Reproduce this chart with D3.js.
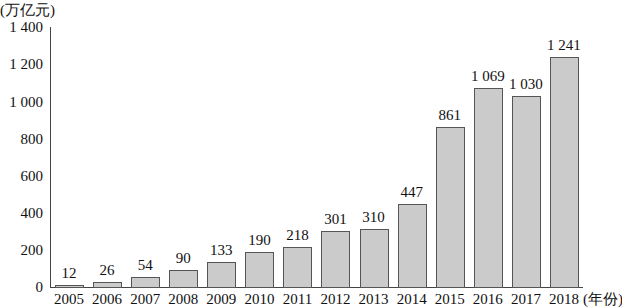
<!DOCTYPE html>
<html><head><meta charset="utf-8">
<script src="https://cdn.jsdelivr.net/npm/d3@7"></script>
<style>body{margin:0;background:#fff}svg{display:block}</style>
</head><body>
<svg id="c" width="622" height="308"></svg>
<script>
const years = ["2005","2006","2007","2008","2009","2010","2011","2012","2013","2014","2015","2016","2017","2018"];
const values = [12,26,54,90,133,190,218,301,310,447,861,1069,1030,1241];
const yTicks = [0,200,400,600,800,1000,1200,1400];
const yUnit = "(万亿元)";
const xUnit = "(年份)";

const fmt = v => { const s = String(v); return s.length > 3 ? s.slice(0, s.length-3) + " " + s.slice(-3) : s; };
const svg = d3.select("#c");
const font = "'Liberation Serif','Times New Roman',serif";
const x = d3.scaleBand().domain(years).range([50, 583]).paddingInner(0.26).paddingOuter(0.13);
const y = d3.scaleLinear().domain([0, 1400]).range([287, 27]);

svg.append("line").attr("x1",50.5).attr("x2",50.5).attr("y1",y(1400)).attr("y2",y(0)).attr("stroke","#444").attr("stroke-width",1);
svg.append("line").attr("x1",50).attr("x2",583).attr("y1",y(0)+0.5).attr("y2",y(0)+0.5).attr("stroke","#444").attr("stroke-width",1);

svg.selectAll(".yt").data(yTicks).join("text")
  .attr("x",43).attr("y",d=>y(d)).attr("dy","0.35em").attr("text-anchor","end")
  .attr("font-family",font).attr("font-size",15).attr("fill","#111").text(d=>fmt(d));

svg.selectAll(".bar").data(values).join("rect")
  .attr("x",(d,i)=>Math.round(x(years[i]))+0.5).attr("width",Math.round(x.bandwidth()))
  .attr("y",d=>Math.round(y(d))+0.5).attr("height",d=>y(0)-Math.round(y(d)))
  .attr("fill","#cbcbcb").attr("stroke","#555").attr("stroke-width",1);

svg.selectAll(".vl").data(values).join("text")
  .attr("x",(d,i)=>x(years[i])+x.bandwidth()/2).attr("y",d=>y(d)-7)
  .attr("text-anchor","middle").attr("font-family",font).attr("font-size",15).attr("fill","#111").text(d=>fmt(d));

svg.selectAll(".xl").data(years).join("text")
  .attr("x",d=>x(d)+x.bandwidth()/2).attr("y",304)
  .attr("text-anchor","middle").attr("font-family",font).attr("font-size",15).attr("fill","#111").text(d=>d);

svg.append("text").attr("x",583).attr("y",304).attr("font-family",font).attr("font-size",15).attr("fill","#111").text(xUnit);
svg.append("text").attr("x",0).attr("y",15).attr("font-family",font).attr("font-size",15).attr("fill","#111").text(yUnit);
</script>
</body></html>
